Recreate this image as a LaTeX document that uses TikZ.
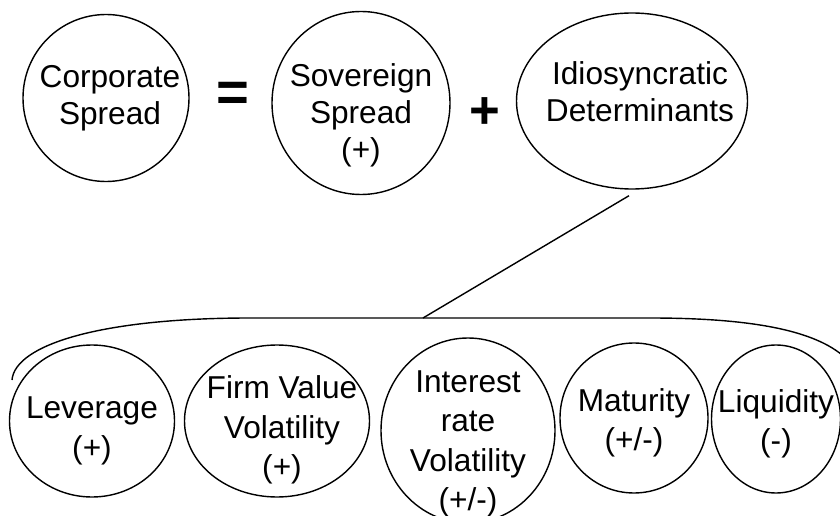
\documentclass[tikz,border=0pt]{standalone}
\usepackage{fontspec}
\setmainfont{Liberation Sans}
\usetikzlibrary{shapes.geometric}

\begin{document}
\begin{tikzpicture}[scale=1,
  blob/.style={draw, ellipse, line width=0.8pt, inner sep=0pt},
  txt/.style={align=center, inner sep=0pt, font=\fontsize{18}{21}\selectfont},
  txtlow/.style={txt, font=\fontsize{18}{22.5}\selectfont},
  sign/.style={font=\fontsize{32}{32}\selectfont\bfseries, inner sep=0pt}]

\useasboundingbox (0,0) rectangle (16.8,10.3);

% top row
\node[blob, minimum width=3.32cm, minimum height=3.34cm] (corp) at (2.12,8.34) {};
\node[blob, minimum width=3.56cm, minimum height=3.66cm] (sov) at (7.22,8.24) {};
\node[blob, minimum width=4.62cm, minimum height=3.52cm] (idio) at (12.64,8.28) {};
\node[txt] (corp-t) at ([xshift=0.08cm]corp.center) {Corporate\\Spread};
\node[txt] (sov-t) at ([yshift=-0.24cm]sov.center) {Sovereign\\Spread\\(+)};
\node[txt] (idio-t) at ([shift={(0.16cm,0.18cm)}]idio.center) {Idiosyncratic\\Determinants};
\node[sign] (eq) at (4.66,8.36) {=};
\node[sign, font=\fontsize{30}{30}\selectfont\bfseries] (plus) at (9.70,8.04) {+};

% bottom row
\node[blob, minimum width=3.30cm, minimum height=3.04cm] (lev) at (1.84,1.88) {};
\node[blob, minimum width=3.70cm, minimum height=3.04cm] (firm) at (5.54,1.88) {};
\node[blob, minimum width=3.48cm, minimum height=3.70cm] (irv) at (9.36,1.69) {};
\node[blob, minimum width=2.96cm, minimum height=3.00cm] (mat) at (12.68,1.94) {};
\node[blob, minimum width=2.58cm, minimum height=2.96cm] (liq) at (15.52,1.92) {};
\node[txtlow] (lev-t) at ([yshift=-0.2cm]lev.center) {Leverage\\(+)};
\node[txtlow] (firm-t) at ([shift={(0.1cm,-0.18cm)}]firm.center) {Firm Value\\Volatility\\(+)};
\node[txtlow] (irv-t) at ([yshift=-0.27cm]irv.center) {Interest\\rate\\Volatility\\(+/-)};
\node[txtlow] (mat-t) at ([yshift=-0.1cm]mat.center) {Maturity\\(+/-)};
\node[txtlow] (liq-t) at ([yshift=-0.1cm]liq.center) {Liquidity\\(-)};

% brace and link
\coordinate (join) at (8.46,3.94);
\draw[line width=0.8pt] (0.24,2.7) .. controls (0.3,3.4) and (2.0,3.94) .. (5,3.94)
  -- (13,3.94) .. controls (15,3.94) and (16.3,3.7) .. (16.9,3.15);
\draw[line width=0.8pt] ([shift={(-0.06,-0.12)}]idio.south) -- (join);
\end{tikzpicture}
\end{document}
